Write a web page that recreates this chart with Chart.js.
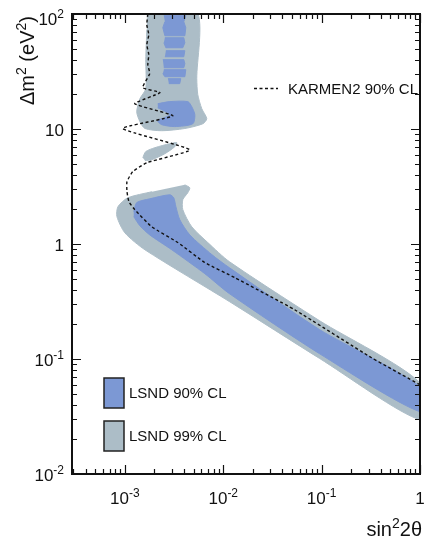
<!DOCTYPE html>
<html>
<head>
<meta charset="utf-8">
<script src="https://cdn.jsdelivr.net/npm/chart.js@4.4.0/dist/chart.umd.min.js"></script>
<style>
  html, body { margin: 0; padding: 0; background: #fff; }
</style>
</head>
<body>
<canvas id="c" width="424" height="542"></canvas>
<script>
// ── Data (sin²2θ, Δm² in eV²) ─────────────────────────────────────────────
const karmen90 = [
  [1.71e-3, 100], [1.67e-3, 80.7], [1.75e-3, 66], [1.67e-3, 54.1], [1.75e-3, 44.3],
  [1.71e-3, 36.2], [1.79e-3, 30.3], [1.52e-3, 22.9], [2.27e-3, 20.7], [1.26e-3, 16.6],
  [3.07e-3, 13.0], [9.5e-4, 10.1], [4.57e-3, 6.6], [1.67e-3, 5.09], [1.2e-3, 4.25],
  [1.05e-3, 3.48], [1.05e-3, 2.85], [1.1e-3, 2.33], [1.26e-3, 1.99], [1.88e-3, 1.41],
  [3.45e-3, 1.03], [6.49e-3, 0.69], [1.31e-2, 0.51], [5.32e-2, 0.268], [0.322, 0.1025],
  [1.0, 0.0597],
];

// LSND 99% CL regions
const lsnd99Upper = [
  [1.67e-3, 105], [5.38e-3, 105], [5.38e-3, 27.4], [5.51e-3, 19.9], [6.05e-3, 15.0],
  [6.8e-3, 12.3], [6.19e-3, 11.1], [4.07e-3, 10.1], [2.37e-3, 9.66], [1.6e-3, 10.1],
  [1.42e-3, 11.6], [1.32e-3, 14.1], [1.42e-3, 18.3], [1.63e-3, 22.4], [1.63e-3, 40.1],
  [1.67e-3, 73],
];
const lsnd99Island = [
  [1.52e-3, 5.63], [1.63e-3, 6.36], [2.02e-3, 6.88], [2.86e-3, 7.45], [3.37e-3, 7.6],
  [3.22e-3, 7.02], [2.55e-3, 6.1], [1.88e-3, 5.41], [1.6e-3, 5.31],
];
const lsnd99Main = [
  [4.07e-3, 3.27], [4.57e-3, 3.08], [4.36e-3, 2.79], [3.88e-3, 2.43], [3.88e-3, 1.99],
  [4.79e-3, 1.41], [6.96e-3, 1.03], [1.16e-2, 0.70], [9.55e-2, 0.215], [1.0, 0.0622],
  [1.0, 0.0297], [9.55e-2, 0.101], [1.16e-2, 0.315], [1.6e-3, 0.89], [1.0e-3, 1.25],
  [8.3e-4, 1.73], [8.5e-4, 2.11], [1.07e-3, 2.52], [1.88e-3, 2.85],
];

// LSND 90% CL regions
const lsnd90Stripes = [
  [[2.49e-3, 96.7], [4.16e-3, 96.7], [3.97e-3, 85.7], [4.16e-3, 76.0], [4.07e-3, 64.7], [2.55e-3, 64.7], [2.43e-3, 76.0], [2.55e-3, 85.7]],
  [[2.55e-3, 62.2], [3.97e-3, 62.2], [4.07e-3, 56.2], [3.88e-3, 50.9], [2.61e-3, 50.9], [2.49e-3, 56.2]],
  [[2.61e-3, 48.0], [4.07e-3, 48.0], [3.97e-3, 42.5], [2.55e-3, 42.5]],
  [[2.43e-3, 40.1], [3.97e-3, 40.1], [4.07e-3, 37.0], [3.97e-3, 34.1], [2.49e-3, 34.1]],
  [[2.49e-3, 32.8], [4.16e-3, 32.8], [4.07e-3, 28.5], [2.55e-3, 28.5], [2.43e-3, 30.3]],
  [[2.74e-3, 27.4], [3.7e-3, 27.4], [3.61e-3, 24.8], [2.8e-3, 24.8]],
];
const lsnd90Blob = [
  [2.16e-3, 16.6], [2.86e-3, 17.3], [4.36e-3, 17.3], [4.79e-3, 15.6], [5.14e-3, 13.3],
  [4.9e-3, 11.1], [3.22e-3, 10.5], [2.37e-3, 10.9], [2.16e-3, 11.8], [2.86e-3, 13.3],
  [2.16e-3, 15.3],
];
const lsnd90Main = [
  [1.23e-3, 1.91], [1.32e-3, 2.29], [1.79e-3, 2.47], [2.86e-3, 2.68], [3.14e-3, 2.52],
  [3.3e-3, 2.11], [3.61e-3, 1.63], [4.57e-3, 1.20], [7.64e-3, 0.81], [1.16e-2, 0.62],
  [9.55e-2, 0.180], [1.0, 0.0574], [1.0, 0.0348], [9.55e-2, 0.111], [1.16e-2, 0.369],
  [6.49e-3, 0.552], [3.0e-3, 0.89], [1.79e-3, 1.20], [1.42e-3, 1.44], [1.23e-3, 1.73],
];

// Axes
const xMin = 2.9e-4, xMax = 1;
const yMin = 1e-2, yMax = 100;
const xMajor = [1e-3, 1e-2, 1e-1, 1];
const xLabels = [['10', '-3'], ['10', '-2'], ['10', '-1'], ['1', '']];
const yMajor = [1e-2, 1e-1, 1, 10, 100];
const yLabels = [['10', '-2'], ['10', '-1'], ['1', ''], ['10', ''], ['10', '2']];

const BLUE = '#7c98d4';
const GREY = '#acbdc7';
const FONT = "'Liberation Sans', Arial, Helvetica, sans-serif";

const toPts = arr => arr.map(([x, y]) => ({ x, y }));

function region(points, color, order) {
  return {
    data: toPts(points),
    showLine: true,
    fill: 'shape',
    backgroundColor: color,
    borderColor: color,
    borderWidth: 1,
    pointRadius: 0,
    tension: 0.25,
    order,
  };
}

const datasets = [
  region(lsnd99Upper, GREY, 3),
  region(lsnd99Island, GREY, 3),
  region(lsnd99Main, GREY, 3),
  ...lsnd90Stripes.map(s => ({ ...region(s, BLUE, 2), tension: 0 })),
  region(lsnd90Blob, BLUE, 2),
  region(lsnd90Main, BLUE, 2),
  {
    data: toPts(karmen90),
    showLine: true,
    fill: false,
    borderColor: '#111',
    borderWidth: 1.4,
    borderDash: [3, 2.5],
    pointRadius: 0,
    tension: 0.15,
    order: 1,
  },
];

// ── text helper: runs of [text, isSuperscript] ────────────────────────────
function drawRuns(ctx, runs, x, y, align, size) {
  const supSize = Math.round(size * 0.7);
  let total = 0;
  const widths = runs.map(([t, sup]) => {
    ctx.font = `${sup ? supSize : size}px ${FONT}`;
    const w = ctx.measureText(t).width;
    total += w;
    return w;
  });
  let cx = align === 'right' ? x - total : align === 'center' ? x - total / 2 : x;
  runs.forEach(([t, sup], i) => {
    ctx.font = `${sup ? supSize : size}px ${FONT}`;
    ctx.fillText(t, cx, sup ? y - size * 0.42 : y);
    cx += widths[i];
  });
}

function minorTicks(min, max) {
  const out = [];
  for (let e = -5; e <= 2; e++) {
    for (let k = 2; k <= 9; k++) {
      const v = k * Math.pow(10, e);
      if (v > min && v < max) out.push(v);
    }
  }
  return out;
}

const axesPlugin = {
  id: 'frameAxes',
  afterDraw(chart) {
    const { ctx, chartArea: a, scales: { x, y } } = chart;
    ctx.save();
    ctx.fillStyle = '#111';
    ctx.strokeStyle = '#111';
    ctx.textAlign = 'left';
    ctx.textBaseline = 'alphabetic';

    // ticks (inward on all four sides)
    ctx.lineWidth = 1.2;
    ctx.beginPath();
    const tickX = (v, len) => {
      const px = Math.round(x.getPixelForValue(v)) + 0.5;
      ctx.moveTo(px, a.bottom); ctx.lineTo(px, a.bottom - len);
      ctx.moveTo(px, a.top); ctx.lineTo(px, a.top + len);
    };
    const tickY = (v, len) => {
      const py = Math.round(y.getPixelForValue(v)) + 0.5;
      ctx.moveTo(a.left, py); ctx.lineTo(a.left + len, py);
      ctx.moveTo(a.right, py); ctx.lineTo(a.right - len, py);
    };
    minorTicks(xMin, xMax).forEach(v => tickX(v, 5));
    xMajor.forEach(v => tickX(v, 9));
    minorTicks(yMin, yMax).forEach(v => tickY(v, 5));
    yMajor.forEach(v => tickY(v, 9));
    ctx.stroke();

    // frame
    ctx.lineWidth = 2;
    ctx.strokeRect(a.left, a.top, a.right - a.left, a.bottom - a.top);

    // tick labels
    xMajor.forEach((v, i) => {
      const [b, s] = xLabels[i];
      drawRuns(ctx, s ? [[b, false], [s, true]] : [[b, false]], x.getPixelForValue(v), 504, 'center', 17);
    });
    yMajor.forEach((v, i) => {
      const [b, s] = yLabels[i];
      const base = Math.max(y.getPixelForValue(v) + 7, 25);
      drawRuns(ctx, s ? [[b, false], [s, true]] : [[b, false]], 64, base, 'right', 17);
    });

    // axis titles
    drawRuns(ctx, [['sin', false], ['2', true], ['2θ', false]], 422, 536, 'right', 20);
    ctx.save();
    ctx.translate(34, 105);
    ctx.rotate(-Math.PI / 2);
    drawRuns(ctx, [['Δm', false], ['2', true], [' (eV', false], ['2', true], [')', false]], 0, 0, 'left', 20);
    ctx.restore();

    // legend: KARMEN2
    ctx.lineWidth = 1.4;
    ctx.setLineDash([3, 2.5]);
    ctx.beginPath();
    ctx.moveTo(254, 88.5); ctx.lineTo(278, 88.5);
    ctx.stroke();
    ctx.setLineDash([]);
    ctx.font = `15px ${FONT}`;
    ctx.fillText('KARMEN2 90% CL', 288, 94);

    // legend: LSND boxes
    const box = (top, color, label) => {
      ctx.fillStyle = color;
      ctx.fillRect(104, top, 20, 30);
      ctx.lineWidth = 1.5;
      ctx.strokeStyle = '#222';
      ctx.strokeRect(104, top, 20, 30);
      ctx.fillStyle = '#111';
      ctx.font = `15px ${FONT}`;
      ctx.fillText(label, 129, top + 20);
    };
    box(378, BLUE, 'LSND 90% CL');
    box(421, GREY, 'LSND 99% CL');
    ctx.restore();
  },
};

new Chart(document.getElementById('c'), {
  type: 'scatter',
  data: { datasets },
  options: {
    responsive: false,
    animation: false,
    layout: { padding: { left: 72, right: 4, top: 14, bottom: 68 } },
    plugins: { legend: { display: false }, tooltip: { enabled: false } },
    scales: {
      x: { type: 'logarithmic', min: xMin, max: xMax, display: false },
      y: { type: 'logarithmic', min: yMin, max: yMax, display: false },
    },
  },
  plugins: [axesPlugin],
});
</script>
</body>
</html>
